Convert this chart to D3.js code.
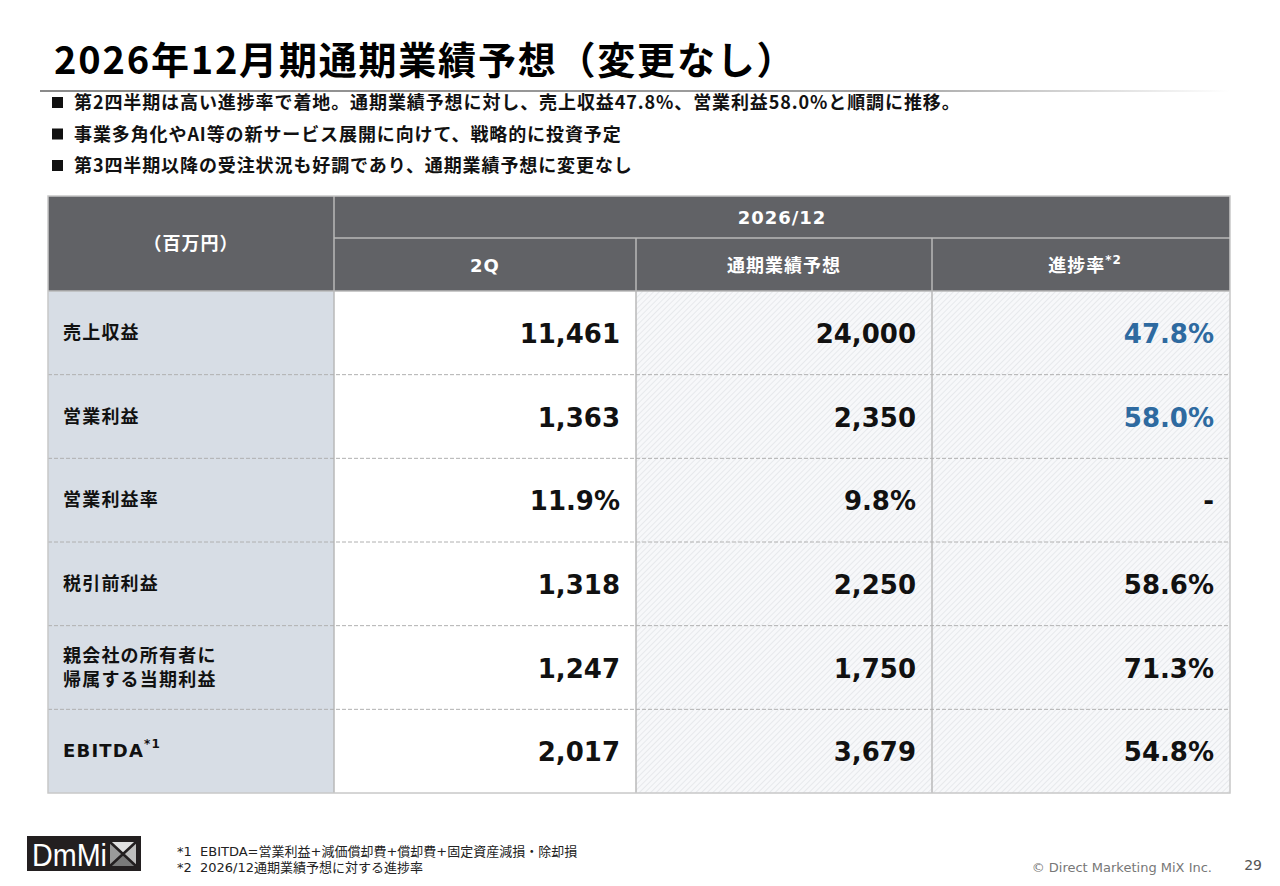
<!DOCTYPE html>
<html>
<head>
<meta charset="utf-8">
<script src="https://cdn.jsdelivr.net/npm/d3@7"></script>
<style>
  body { margin: 0; background: #fff; }
  svg { display: block; }
</style>
</head>
<body>
<div id="chart"></div>
<script>
var title = "2026年12月期通期業績予想（変更なし）";
var bullets = [
  "第2四半期は高い進捗率で着地。通期業績予想に対し、売上収益47.8%、営業利益58.0%と順調に推移。",
  "事業多角化やAI等の新サービス展開に向けて、戦略的に投資予定",
  "第3四半期以降の受注状況も好調であり、通期業績予想に変更なし"
];
var unitLabel = "（百万円）";
var periodLabel = "2026/12";
var columns = ["2Q", "通期業績予想", "進捗率"];
var rowLabels = ["売上収益", "営業利益", "営業利益率", "税引前利益", "親会社の所有者に\n帰属する当期利益", "EBITDA"];
var q2Values = ["11,461", "1,363", "11.9%", "1,318", "1,247", "2,017"];
var forecastValues = ["24,000", "2,350", "9.8%", "2,250", "1,750", "3,679"];
var progressValues = ["47.8%", "58.0%", "-", "58.6%", "71.3%", "54.8%"];
var progressHighlight = [true, true, false, false, false, false];
var notes = [
  "*1  EBITDA=営業利益+減価償却費+償却費+固定資産減損・除却損",
  "*2  2026/12通期業績予想に対する進捗率"
];

var w = 1280, h = 886;
var font = "'DejaVu Sans', 'Noto Sans CJK JP', sans-serif";
var jp = "'Noto Sans CJK JP', sans-serif";

var svg = d3.select("#chart").append("svg")
  .attr("width", w).attr("height", h)
  .style("font-family", font);

var defs = svg.append("defs");
var grad = defs.append("linearGradient").attr("id", "rule").attr("x1", "0").attr("x2", "1");
grad.append("stop").attr("offset", "0").attr("stop-color", "#8a8a8a");
grad.append("stop").attr("offset", "0.7").attr("stop-color", "#a0a0a0");
grad.append("stop").attr("offset", "1").attr("stop-color", "#fff");

var hatch = defs.append("pattern").attr("id", "hatch")
  .attr("width", 4).attr("height", 4)
  .attr("patternUnits", "userSpaceOnUse")
  .attr("patternTransform", "rotate(45)");
hatch.append("rect").attr("width", 4).attr("height", 4).attr("fill", "#f7f8fa");
hatch.append("line").attr("x1", 0).attr("y1", 0).attr("x2", 0).attr("y2", 4)
  .attr("stroke", "#dadde2").attr("stroke-width", 1.1);

// title
svg.append("text").attr("x", 54).attr("y", 74)
  .attr("font-family", jp).attr("font-weight", 700).attr("font-size", 38)
  .attr("letter-spacing", 1.8)
  .attr("fill", "#000").text(title);
svg.append("rect").attr("x", 40).attr("y", 90).attr("width", 1190).attr("height", 2).attr("fill", "url(#rule)");

// bullets
var by = d3.scalePoint().domain(d3.range(bullets.length)).range([109, 172]);
var bg = svg.append("g");
bullets.forEach(function(b, i) {
  bg.append("rect").attr("x", 52).attr("y", by(i) - 12).attr("width", 11).attr("height", 11).attr("fill", "#111");
  bg.append("text").attr("x", 74).attr("y", by(i))
    .attr("font-family", jp).attr("font-weight", 700).attr("font-size", 18)
    .attr("letter-spacing", 0.9)
    .attr("fill", "#111").text(b);
});

// table
var tLeft = 48, tRight = 1230, tTop = 196, head1 = 238, head2 = 291, tBottom = 793;
var colKeys = ["label"].concat(columns);
var colX = d3.scaleOrdinal().domain(colKeys).range([48, 334, 636, 932]);
var colEnd = d3.scaleOrdinal().domain(colKeys).range([334, 636, 932, 1230]);
var y = d3.scaleBand().domain(rowLabels).range([head2, tBottom]);

var t = svg.append("g");
// header
t.append("rect").attr("x", tLeft).attr("y", tTop).attr("width", tRight - tLeft).attr("height", head2 - tTop).attr("fill", "#616266");
// body backgrounds
t.append("rect").attr("x", colX("label")).attr("y", head2).attr("width", colEnd("label") - colX("label")).attr("height", tBottom - head2).attr("fill", "#d7dde5");
t.append("rect").attr("x", colX(columns[0])).attr("y", head2).attr("width", colEnd(columns[0]) - colX(columns[0])).attr("height", tBottom - head2).attr("fill", "#fff");
[columns[1], columns[2]].forEach(function(c) {
  t.append("rect").attr("x", colX(c)).attr("y", head2).attr("width", colEnd(c) - colX(c)).attr("height", tBottom - head2).attr("fill", "url(#hatch)");
});

// header lines
t.append("line").attr("x1", colX(columns[0])).attr("x2", tRight).attr("y1", head1).attr("y2", head1).attr("stroke", "#b8b8b8").attr("stroke-width", 1.5);
t.append("line").attr("x1", tLeft).attr("x2", tRight).attr("y1", head2).attr("y2", head2).attr("stroke", "#b8b8b8").attr("stroke-width", 1.5);
t.append("line").attr("x1", colX(columns[0])).attr("x2", colX(columns[0])).attr("y1", tTop).attr("y2", tBottom).attr("stroke", "#b8b8b8").attr("stroke-width", 1.5);
[columns[1], columns[2]].forEach(function(c) {
  t.append("line").attr("x1", colX(c)).attr("x2", colX(c)).attr("y1", head1).attr("y2", tBottom).attr("stroke", "#b8b8b8").attr("stroke-width", 1.5);
});
// dashed row separators
rowLabels.slice(1).forEach(function(r) {
  t.append("line").attr("x1", tLeft).attr("x2", tRight).attr("y1", y(r)).attr("y2", y(r))
    .attr("stroke", "#b0b0b0").attr("stroke-width", 1).attr("stroke-dasharray", "4,2");
});
// outer border
t.append("rect").attr("x", tLeft).attr("y", tTop).attr("width", tRight - tLeft).attr("height", tBottom - tTop)
  .attr("fill", "none").attr("stroke", "#c8c8c8").attr("stroke-width", 1.5);

// header texts
function headText(x, yy, txt, sup) {
  var tx = t.append("text").attr("x", x).attr("y", yy).attr("text-anchor", "middle")
    .attr("font-family", font).attr("font-weight", 700).attr("font-size", 18)
    .attr("letter-spacing", 1).attr("fill", "#fff");
  tx.append("tspan").text(txt);
  if (sup) tx.append("tspan").attr("dy", -8).attr("font-size", 12).text(sup);
}
headText((tLeft + colX(columns[0])) / 2, 250, unitLabel);
headText((colX(columns[0]) + tRight) / 2, 224, periodLabel);
headText((colX(columns[0]) + colEnd(columns[0])) / 2, 272, columns[0]);
headText((colX(columns[1]) + colEnd(columns[1])) / 2, 272, columns[1]);
headText((colX(columns[2]) + colEnd(columns[2])) / 2 + 4, 272, columns[2], "*2");

// row labels
rowLabels.forEach(function(r) {
  var lines = r.split("\n");
  var cy = y(r) + y.bandwidth() / 2;
  var tx = t.append("text").attr("x", 63).attr("font-weight", 700).attr("font-size", 18)
    .attr("letter-spacing", 1.2).attr("fill", "#111");
  lines.forEach(function(l, i) {
    tx.append("tspan").attr("x", 63).attr("y", cy + 6 + (i - (lines.length - 1) / 2) * 24).text(l);
  });
  if (r === "EBITDA") tx.append("tspan").attr("dy", -9).attr("font-size", 12).text("*1");
});

// values
var valueCols = [
  { key: columns[0], vals: q2Values },
  { key: columns[1], vals: forecastValues },
  { key: columns[2], vals: progressValues }
];
valueCols.forEach(function(c) {
  rowLabels.forEach(function(r, i) {
    t.append("text").attr("x", colEnd(c.key) - 16).attr("y", y(r) + y.bandwidth() / 2 + 10)
      .attr("text-anchor", "end").attr("font-weight", 700).attr("font-size", 26)
      .attr("fill", c.key === columns[2] && progressHighlight[i] ? "#2e6aa0" : "#111")
      .text(c.vals[i]);
  });
});

// logo
var lg = svg.append("g").attr("transform", "translate(27,836)");
lg.append("rect").attr("width", 114).attr("height", 35).attr("fill", "#231f20");
lg.append("text").attr("x", 5).attr("y", 30).attr("font-family", "'Liberation Sans Narrow', 'Liberation Sans', sans-serif")
  .attr("font-size", 31).attr("fill", "#fff").attr("textLength", 75).attr("lengthAdjust", "spacingAndGlyphs").text("DmMi");
var X = lg.append("g").attr("transform", "translate(83,6)");
X.append("polygon").attr("points", "0,0 26,0 13,12").attr("fill", "#e0e0e0");
X.append("polygon").attr("points", "0,0 13,12 0,24").attr("fill", "#9a9a9a");
X.append("polygon").attr("points", "26,0 26,24 13,12").attr("fill", "#bdbdbd");
X.append("polygon").attr("points", "0,24 26,24 13,12").attr("fill", "#7a7a7a");
X.append("path").attr("d", "M0,0 L26,24 M26,0 L0,24").attr("stroke", "#231f20").attr("stroke-width", 2.5);

// notes
notes.forEach(function(n, i) {
  svg.append("text").attr("x", 177).attr("y", 856 + i * 16)
    .style("white-space", "pre")
    .attr("font-family", font).attr("font-size", 13).attr("fill", "#222").text(n);
});
svg.append("text").attr("x", 1212).attr("y", 872).attr("text-anchor", "end")
  .attr("font-size", 13).attr("fill", "#777").text("© Direct Marketing MiX Inc.");
svg.append("text").attr("x", 1262).attr("y", 870).attr("text-anchor", "end")
  .attr("font-size", 14).attr("fill", "#555").text("29");
</script>
</body>
</html>
